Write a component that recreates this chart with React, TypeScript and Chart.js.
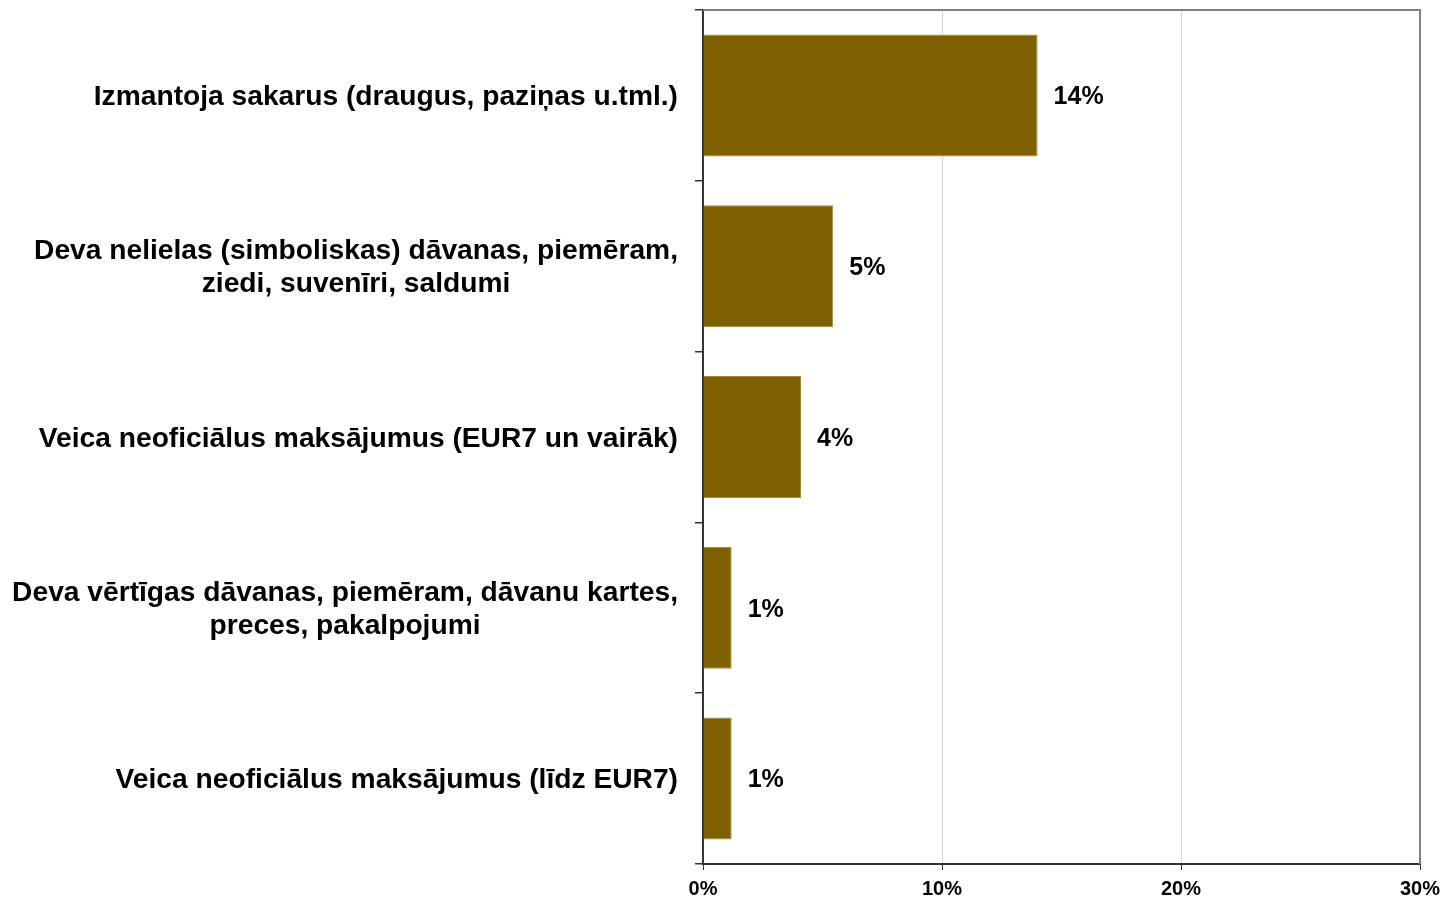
import React, { useEffect, useRef } from "react";
import { Chart, registerables } from "chart.js";

Chart.register(...registerables);

const categories: string[][] = [
  ["Izmantoja sakarus (draugus, paziņas u.tml.)"],
  ["Deva nelielas (simboliskas) dāvanas, piemēram,", "ziedi, suvenīri, saldumi"],
  ["Veica neoficiālus maksājumus (EUR7 un vairāk)"],
  ["Deva vērtīgas dāvanas, piemēram, dāvanu kartes,", "preces, pakalpojumi"],
  ["Veica neoficiālus maksājumus (līdz EUR7)"],
];
const values: number[] = [14.0, 5.45, 4.1, 1.2, 1.2];
const xTicks: number[] = [0, 10, 20, 30];

const FONT = "'Liberation Sans', Arial, sans-serif";

export default function App() {
  const ref = useRef<HTMLCanvasElement | null>(null);

  useEffect(() => {
    document.body.style.margin = "0";
    const canvas = ref.current;
    if (!canvas) return;

    const frame = {
      id: "frame",
      afterDraw(chart: any) {
        const { ctx, chartArea } = chart;
        ctx.save();
        ctx.strokeStyle = "#808080";
        ctx.lineWidth = 2;
        ctx.beginPath();
        ctx.moveTo(chartArea.left, chartArea.top);
        ctx.lineTo(chartArea.right, chartArea.top);
        ctx.lineTo(chartArea.right, chartArea.bottom);
        ctx.stroke();
        ctx.restore();
      },
    };

    // Category labels: block right-aligned against the axis, lines centred within the block
    const catLabels = {
      id: "catLabels",
      afterDraw(chart: any) {
        const { ctx } = chart;
        const yScale = chart.scales.y;
        const right = chart.chartArea.left - 25;
        const lineH = 33;
        ctx.save();
        ctx.font = `bold 28.2px ${FONT}`;
        ctx.fillStyle = "#000";
        ctx.textAlign = "center";
        ctx.textBaseline = "middle";
        (chart.data.labels as string[][]).forEach((lines, i) => {
          const yc = yScale.getPixelForTick(i) + 2;
          const maxW = Math.max(...lines.map((l) => ctx.measureText(l).width));
          const xc = right - maxW / 2;
          const y0 = yc - ((lines.length - 1) * lineH) / 2;
          lines.forEach((l, j) => ctx.fillText(l, xc, y0 + j * lineH));
        });
        ctx.restore();
      },
    };

    const dataLabels = {
      id: "dataLabels",
      afterDatasetsDraw(chart: any) {
        const { ctx } = chart;
        const meta = chart.getDatasetMeta(0);
        ctx.save();
        ctx.font = `bold 25px ${FONT}`;
        ctx.fillStyle = "#000";
        ctx.textAlign = "left";
        ctx.textBaseline = "middle";
        meta.data.forEach((bar: any, i: number) => {
          const v = chart.data.datasets[0].data[i] as number;
          ctx.fillText(`${Math.round(v)}%`, bar.x + 16, bar.y + 2);
        });
        ctx.restore();
      },
    };

    const chart = new Chart(canvas, {
      type: "bar",
      data: {
        labels: categories,
        datasets: [
          {
            data: values,
            backgroundColor: "#7F6000",
            borderColor: "#A08A40",
            borderWidth: 1,
            barPercentage: 0.714,
            categoryPercentage: 1,
          },
        ],
      },
      options: {
        indexAxis: "y",
        responsive: false,
        animation: false,
        layout: { padding: { top: 10, right: 25, bottom: 0, left: 0 } },
        plugins: {
          legend: { display: false },
          tooltip: { enabled: false },
        },
        scales: {
          x: {
            type: "linear",
            min: 0,
            max: 30,
            afterBuildTicks(scale: any) {
              scale.ticks = xTicks.map((v) => ({ value: v }));
            },
            afterFit(scale: any) {
              scale.height = 35;
              scale.paddingLeft = 0;
              scale.paddingRight = 0;
            },
            ticks: {
              callback: (v: any) => `${v}%`,
              font: { family: FONT, size: 20, weight: "bold" },
              color: "#000",
              padding: 7,
              maxRotation: 0,
            },
            grid: {
              color: (c: any) =>
                c.tick && c.tick.value === 30 ? "rgba(0,0,0,0)" : "#d4d4d4",
              lineWidth: 1,
              tickColor: "#333",
              tickLength: 6,
            },
            border: { color: "#333", width: 2 },
          },
          y: {
            afterFit(scale: any) {
              scale.width = 703;
              scale.paddingTop = 0;
              scale.paddingBottom = 0;
            },
            ticks: {
              display: false,
            },
            grid: {
              offset: true,
              drawOnChartArea: false,
              drawTicks: true,
              tickLength: 8,
              tickColor: "#333",
              lineWidth: 1.5,
            },
            border: { color: "#333", width: 2 },
          },
        },
      },
      plugins: [frame, catLabels, dataLabels],
    });

    return () => chart.destroy();
  }, []);

  return (
    <div style={{ width: 1445, height: 899, background: "#fff" }}>
      <canvas ref={ref} width={1445} height={899} />
    </div>
  );
}
